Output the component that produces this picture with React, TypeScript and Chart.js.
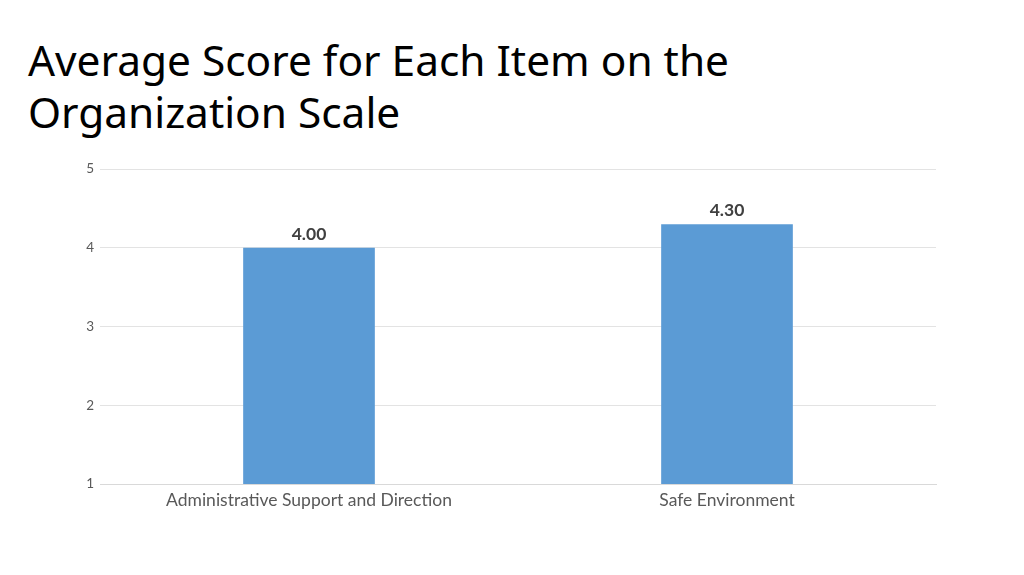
import { Chart, registerables, Plugin } from 'chart.js';
import { useEffect, useRef } from 'react';

Chart.register(...registerables);

const titleLines = ['Average Score for Each Item on the', 'Organization Scale'];
const categories = ['Administrative Support and Direction', 'Safe Environment'];
const scores = [4.0, 4.3];
const yTicks = [1, 2, 3, 4, 5];

// draws the value above each bar (no datalabels plugin available)
const valueLabels: Plugin<'bar'> = {
    id: 'valueLabels',
    afterDatasetsDraw(chart) {
        const ctx = chart.ctx;
        const meta = chart.getDatasetMeta(0);
        ctx.save();
        ctx.font = 'bold 17.5px Lato';
        ctx.fillStyle = '#404040';
        ctx.textAlign = 'center';
        ctx.textBaseline = 'bottom';
        meta.data.forEach((bar, i) => {
            const v = chart.data.datasets[0].data[i] as number;
            ctx.fillText(v.toFixed(2), bar.x, bar.y - 5);
        });
        ctx.restore();
    }
};

function ScoreChart() {
    const canvasRef = useRef<HTMLCanvasElement>(null);
    const chartRef = useRef<Chart | null>(null);

    useEffect(() => {
        if (!canvasRef.current) return;
        if (chartRef.current) chartRef.current.destroy();

        chartRef.current = new Chart(canvasRef.current, {
            type: 'bar',
            data: {
                labels: categories,
                datasets: [{
                    data: scores,
                    backgroundColor: '#5b9bd5',
                    categoryPercentage: 1,
                    barPercentage: 0.315
                }]
            },
            options: {
                animation: false,
                responsive: true,
                maintainAspectRatio: false,
                layout: { padding: { top: 169, right: 88, left: 0, bottom: 0 } },
                scales: {
                    x: {
                        grid: { display: false, drawTicks: false },
                        border: { display: true, color: '#d9d9d9' },
                        ticks: { color: '#595959', font: { family: 'Lato', size: 17.5 }, padding: 6 },
                        afterFit: (s) => { s.height = 575 - 484; }
                    },
                    y: {
                        min: yTicks[0],
                        max: yTicks[yTicks.length - 1],
                        grid: { color: '#e3e3e3', drawTicks: false },
                        border: { display: false },
                        afterBuildTicks: (s) => { s.ticks = yTicks.map(v => ({ value: v })); },
                        ticks: { color: '#595959', font: { family: 'Lato', size: 13.5 }, padding: 6 },
                        afterFit: (s) => { s.width = 100; }
                    }
                },
                plugins: {
                    legend: { display: false },
                    title: { display: false },
                    tooltip: { enabled: false }
                }
            },
            plugins: [valueLabels]
        });

        return () => {
            if (chartRef.current) {
                chartRef.current.destroy();
                chartRef.current = null;
            }
        };
    }, []);

    return <canvas ref={canvasRef} />;
}

export default function App() {
    return (
        <div style={{ position: 'absolute', left: 0, top: 0, width: 1024, height: 575, background: '#fff' }}>
            <div style={{
                position: 'absolute', left: 28, top: 34,
                fontFamily: '"Noto Sans"', fontSize: 42.4, lineHeight: '52px', color: '#000'
            }}>
                {titleLines.map(l => <div key={l}>{l}</div>)}
            </div>
            <div style={{ position: 'absolute', left: 0, top: 0, width: 1024, height: 575 }}>
                <ScoreChart />
            </div>
        </div>
    );
}
